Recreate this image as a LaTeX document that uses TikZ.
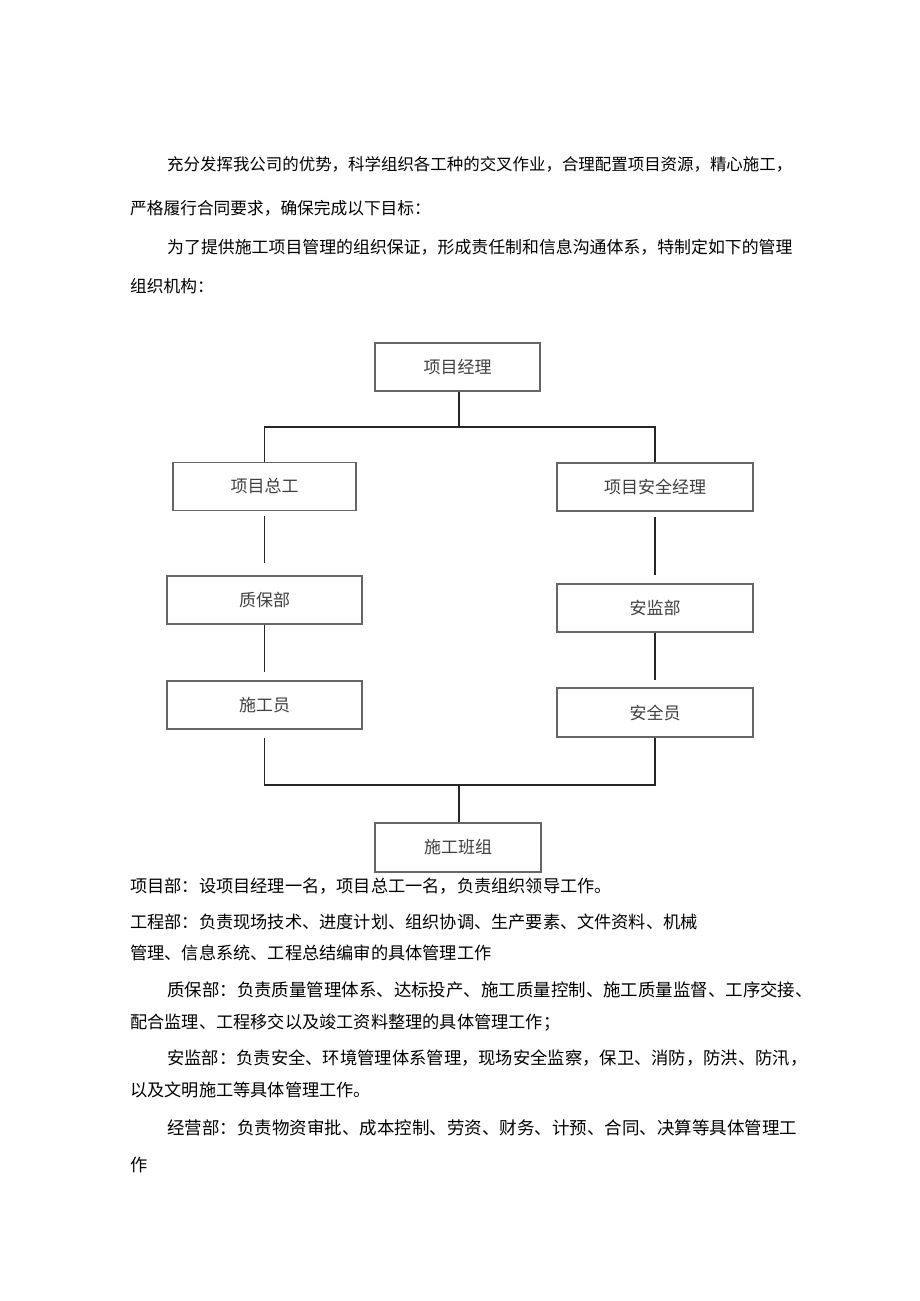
\documentclass[tikz,border=0pt]{standalone}
\usepackage{fontspec}
\newfontfamily\cjk{Noto Sans CJK SC}

\begin{document}
\begin{tikzpicture}[
            x=1pt, y=-1pt,
            orgbox/.style={draw=black!60, line width=1.1pt, fill=white, minimum width=195, minimum height=48, inner sep=0pt, text=black!75, font=\cjk\fontsize{17}{20}\selectfont},
            link/.style={draw=black!85, line width=1.4pt},
            bodytext/.style={anchor=west, inner sep=0pt, font=\cjk\fontsize{16.7}{20}\selectfont},
            notetext/.style={anchor=west, inner sep=0pt, font=\cjk\fontsize{17.2}{20}\selectfont}
        ]
            \useasboundingbox[fill=white] (0,0) rectangle (920,1301);

            % intro paragraphs
            \node[bodytext, font=\cjk\fontsize{16.45}{20}\selectfont] (intro1) at (167,164) {充分发挥我公司的优势，科学组织各工种的交叉作业，合理配置项目资源，精心施工，};
            \node[bodytext] (intro2) at (130,208) {严格履行合同要求，确保完成以下目标：};
            \node[bodytext, font=\cjk\fontsize{16.9}{20}\selectfont] (intro3) at (167,247) {为了提供施工项目管理的组织保证，形成责任制和信息沟通体系，特制定如下的管理};
            \node[bodytext] (intro4) at (130,286) {组织机构：};

            % boxes
            \node[orgbox, minimum width=165] (pm) at (457.5,367) {项目经理};
            \node[orgbox, minimum width=183] (chief) at (264.5,486.5) {项目总工};
            \node[orgbox, minimum width=196] (safemgr) at (655,487) {项目安全经理};
            \node[orgbox] (qa) at (264.5,600) {质保部};
            \node[orgbox] (worker) at (264.5,705) {施工员};
            \node[orgbox, minimum width=196] (safedept) at (655,608) {安监部};
            \node[orgbox, minimum width=196, minimum height=49] (safety) at (655,712.5) {安全员};
            \node[orgbox, minimum width=166, minimum height=49] (team) at (458,847.5) {施工班组};

            % top branch
            \coordinate (topbus) at (459,427);
            \draw[link] (pm.south -| topbus) -- (topbus);
            \draw[link] (chief.north) |- (topbus) -| (safemgr.north);

            % left column
            \draw[link, shorten <=5pt, shorten >=12pt] (chief) -- (qa);
            \draw[link, shorten >=8pt] (qa) -- (worker);

            % right column
            \draw[link, shorten <=5pt, shorten >=8pt] (safemgr) -- (safedept);
            \draw[link, shorten >=7pt] (safedept) -- (safety);

            % bottom branch
            \coordinate (lowbus) at (459,785);
            \draw[link, shorten <=8pt] (worker.south) |- (lowbus) -| (safety.south);
            \draw[link] (lowbus) -- (team.north -| lowbus);

            % notes under the chart
            \node[notetext] (note1) at (130,886) {项目部：设项目经理一名，项目总工一名，负责组织领导工作。};
            \node[notetext] (note2) at (130,922) {工程部：负责现场技术、进度计划、组织协调、生产要素、文件资料、机械};
            \node[notetext] (note3) at (130,953) {管理、信息系统、工程总结编审的具体管理工作};
            \node[notetext, font=\cjk\fontsize{17.45}{20}\selectfont] (note4) at (167,990) {质保部：负责质量管理体系、达标投产、施工质量控制、施工质量监督、工序交接、};
            \node[notetext] (note5) at (130,1023) {配合监理、工程移交以及竣工资料整理的具体管理工作；};
            \node[notetext, font=\cjk\fontsize{17.3}{20}\selectfont] (note6) at (167,1058) {安监部：负责安全、环境管理体系管理，现场安全监察，保卫、消防，防洪、防汛，};
            \node[notetext] (note7) at (130,1090) {以及文明施工等具体管理工作。};
            \node[notetext, font=\cjk\fontsize{17.5}{20}\selectfont] (note8) at (167,1128) {经营部：负责物资审批、成本控制、劳资、财务、计预、合同、决算等具体管理工};
            \node[notetext] (note9) at (130,1165) {作};

        \end{tikzpicture}
\end{document}
